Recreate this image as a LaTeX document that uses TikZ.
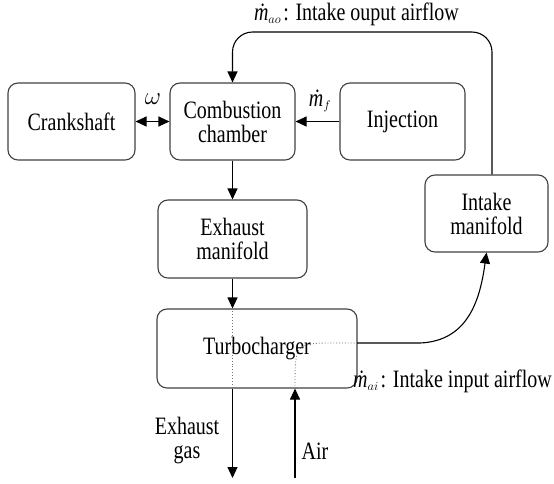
\documentclass[tikz,border=0pt]{standalone}
\usepackage{fix-cm}
\usepackage{fontspec}
\setmainfont[FakeStretch=0.8]{Liberation Serif}
\usetikzlibrary{arrows.meta}
\tikzstyle{recNode} = [rectangle, text centered, align=center, rounded corners=0.35cm, draw=black!75, line width=1.1pt, font=\fontsize{25}{24}\selectfont]
\tikzstyle{eNode} = [text centered, align=center, inner sep=1pt, font=\fontsize{25}{24}\selectfont]
\tikzstyle{arrow} = [line width=1.1pt,-{Triangle[length=11pt,width=10pt]},draw=black]
\tikzstyle{arrowD} = [line width=1.1pt,{Triangle[length=11pt,width=10pt]}-{Triangle[length=11pt,width=10pt]},draw=black]
\tikzstyle{dotLine} = [line width=0.9pt, dotted, draw=black!55]
\newcommand{\mflow}[1]{\textit{\.m}$_{\scriptscriptstyle #1}$}

\begin{document}
\begin{tikzpicture}[x=1pt,y=-1pt]
        \useasboundingbox (0,0) rectangle (554,483);
        \node (crank) [recNode, minimum width=127pt, minimum height=77pt] at (71.5,121.5) {Crankshaft};
        \node (comb) [recNode, minimum width=125pt, minimum height=77pt] at (232.5,121.5) {Combustion\\chamber};
        \node (inj) [recNode, minimum width=125pt, minimum height=77pt] at (402.5,121.5) {Injection};
        \node (intake) [recNode, minimum width=123pt, minimum height=77pt] at (486.5,213.5) {Intake\\manifold};
        \node (exh) [recNode, minimum width=149pt, minimum height=78pt] at (232.5,239) {Exhaust\\manifold};
        \node (turbo) [recNode, minimum width=200pt, minimum height=79pt] at (257,348.5) {Turbocharger};

        % labels
        \node (lblao) [eNode, anchor=east] at (460,14) {\mflow{ao}\hspace{2pt}: Intake ouput airflow};
        \node (lblai) [eNode, anchor=east] at (553,381) {\mflow{ai}\hspace{2pt}: Intake input airflow};
        \node (lblw) [eNode] at (153,99) {$\omega$};
        \node (lblf) [eNode] at (320,101) {\mflow{f}};
        \node (lblgas) [eNode] at (187,441) {Exhaust\\gas};
        \node (lblair) [eNode] at (315,451) {Air};

        \coordinate (gasout) at (232.5,478);
        \coordinate (airin) at (295,478);
        \coordinate (aireast) at (357,343);

        \draw [arrowD] (crank) -- (comb);
        \draw [arrow] (inj) -- (comb);
        \draw [arrow] (comb) -- (exh);
        \draw [arrow] (exh) -- (exh |- turbo.north);
        \draw [dotLine] (exh |- turbo.north) -- (exh |- turbo.south);
        \draw [arrow] (exh |- turbo.south) -- (gasout);
        \draw [arrow] (airin) -- (airin |- turbo.south);
        \draw [dotLine] (airin |- turbo.south) .. controls (airin |- aireast) .. ([xshift=-22pt]aireast) -- (aireast);
        \draw [arrow] (aireast) -- (420,343) .. controls (468,341) and (480,300) .. (intake.south);
        \draw [arrow, rounded corners=20pt] ([xshift=5.5pt]intake.north) |- (comb.north |- 0,32) -- (comb.north);
    \end{tikzpicture}
\end{document}
